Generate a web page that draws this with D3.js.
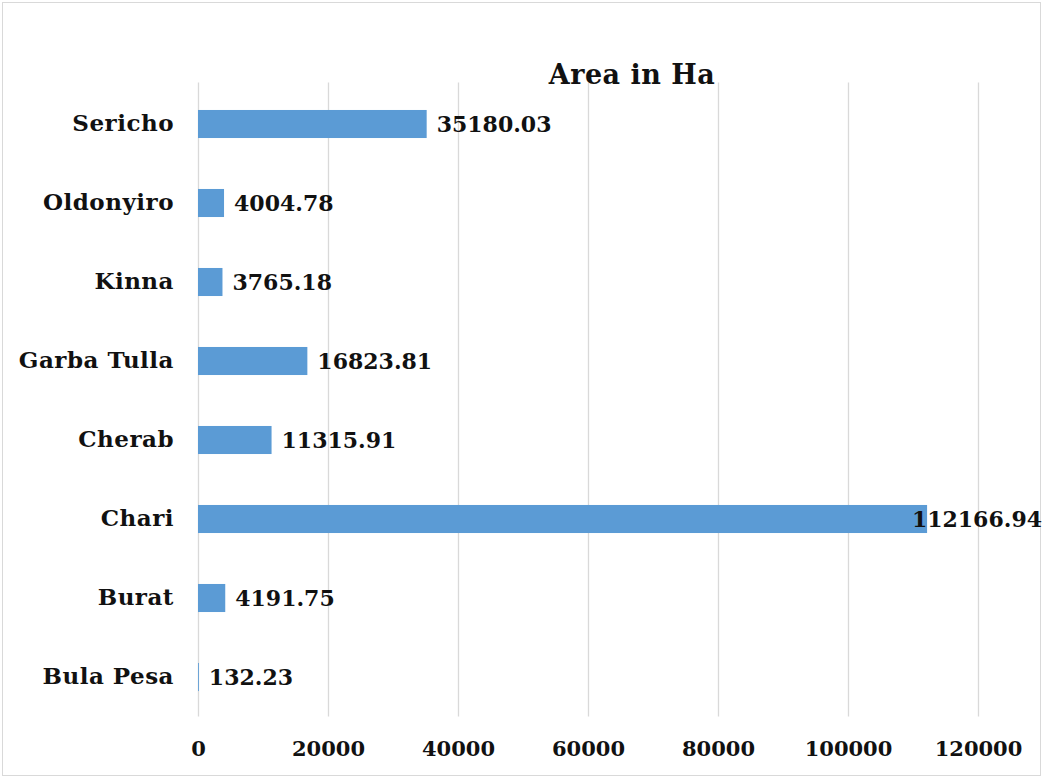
<!DOCTYPE html>
<html>
<head>
<meta charset="utf-8">
<script src="https://cdn.jsdelivr.net/npm/d3@7"></script>
<style>
  body { margin: 0; background: #fff; }
  text { font-family: "DejaVu Serif", serif; font-weight: bold; fill: #111; }
</style>
</head>
<body>
<div id="chart"></div>
<script>
// --------- Data --------- //
var categories = ["Sericho", "Oldonyiro", "Kinna", "Garba Tulla", "Cherab", "Chari", "Burat", "Bula Pesa"];
var areas = [35180.03, 4004.78, 3765.18, 16823.81, 11315.91, 112166.94, 4191.75, 132.23];
var areaLabels = ["35180.03", "4004.78", "3765.18", "16823.81", "11315.91", "112166.94", "4191.75", "132.23"];
var xTicks = [0, 20000, 40000, 60000, 80000, 100000, 120000];
var title = "Area in Ha";
// --------- /Data --------- //

var width = 1044, height = 778;
var margin = {top: 84.5, right: 66, bottom: 61.5, left: 198};

var svg = d3.select("#chart").append("svg")
	.attr("width", width)
	.attr("height", height);

// chart frame
svg.append("rect")
	.attr("x", 2.5).attr("y", 2.5)
	.attr("width", 1038).attr("height", 773)
	.attr("fill", "#fff")
	.attr("stroke", "#d9d9d9");

var x = d3.scaleLinear()
	.domain([0, 120000])
	.range([margin.left, width - margin.right]);

var y = d3.scaleBand()
	.domain(categories)
	.range([margin.top, height - margin.bottom])
	.paddingInner(0.645)
	.paddingOuter(0.3225);

// gridlines
svg.append("g")
	.selectAll("line")
	.data(xTicks)
	.join("line")
	.attr("x1", function(d){ return Math.round(x(d)) + 0.5; })
	.attr("x2", function(d){ return Math.round(x(d)) + 0.5; })
	.attr("y1", margin.top - 2)
	.attr("y2", height - margin.bottom)
	.attr("stroke", "#d9d9d9")
	.attr("stroke-width", 1.3);

// x tick labels
var xAxis = d3.axisBottom(x).tickValues(xTicks).tickSize(0).tickPadding(0).tickFormat(d3.format("d"));
var xg = svg.append("g")
	.attr("transform", "translate(0," + (height - margin.bottom + 32) + ")")
	.call(xAxis);
xg.select(".domain").remove();
xg.selectAll("text")
	.attr("dy", "0.35em")
	.attr("y", 0)
	.style("font-size", "21px")
	.style("font-family", "DejaVu Serif, serif")
	.style("font-weight", "bold")
	.attr("fill", "#111");

// y category labels
var yAxis = d3.axisLeft(y).tickSize(0).tickPadding(0);
var yg = svg.append("g")
	.attr("transform", "translate(" + (margin.left - 24) + ",0)")
	.call(yAxis);
yg.select(".domain").remove();
yg.selectAll("text")
	.style("font-size", "23px")
	.style("letter-spacing", "0.5px")
	.style("font-family", "DejaVu Serif, serif")
	.style("font-weight", "bold")
	.attr("fill", "#111");

// bars
svg.append("g")
	.selectAll("rect")
	.data(categories)
	.join("rect")
	.attr("x", x(0))
	.attr("y", function(d){ return y(d); })
	.attr("width", function(d, i){ return x(areas[i]) - x(0); })
	.attr("height", y.bandwidth())
	.attr("fill", "#5b9bd5");

// value labels (shifted left when they would overflow the frame, like Excel does)
svg.append("g")
	.selectAll("text")
	.data(categories)
	.join("text")
	.attr("y", function(d){ return y(d) + y.bandwidth() / 2; })
	.attr("dy", "0.35em")
	.style("font-size", "22px")
	.text(function(d, i){ return areaLabels[i]; })
	.each(function(d, i){
		var w = this.getComputedTextLength();
		var xPos = x(areas[i]) + 10;
		if (xPos + w > width - 2) {
			xPos = width - 2 - w;
		}
		d3.select(this).attr("x", xPos);
	});

// title
svg.append("text")
	.attr("x", 632)
	.attr("y", 84)
	.attr("text-anchor", "middle")
	.style("font-size", "27px")
	.style("letter-spacing", "0.5px")
	.text(title);
</script>
</body>
</html>
